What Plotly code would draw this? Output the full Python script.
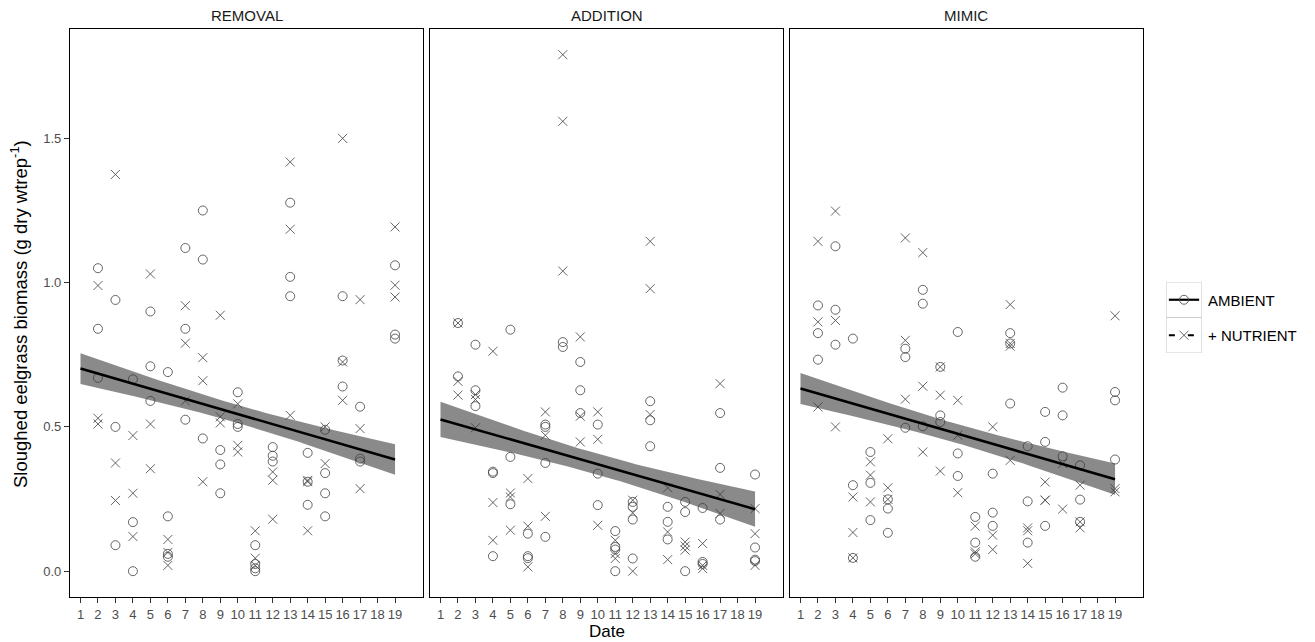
import numpy as np
import plotly.graph_objects as go

# page body has an 8px margin: shift the figure coordinates by it
OFF = 8
W, H = 1315 - OFF, 642 - OFF

PANELS = ["REMOVAL", "ADDITION", "MIMIC"]
DATE_TICKS = list(range(1, 20))
Y_TICKS = [0.0, 0.5, 1.0, 1.5]
Y_TICKTEXT = ["0.0", "0.5", "1.0", "1.5"]
LEGEND_LABELS = ["AMBIENT", "+ NUTRIENT"]

# ---------------- REMOVAL ----------------
removal_amb_date = [2, 2, 2, 3, 3, 3, 4, 4, 4, 5, 5, 5, 6, 6, 6, 6, 7, 7, 7, 8, 8, 8, 9, 9, 9,
                    10, 10, 10, 11, 11, 11, 11, 12, 12, 12, 13, 13, 13, 14, 14, 14, 15, 15, 15, 15,
                    16, 16, 16, 17, 17, 17, 19, 19, 19]
removal_amb_val = [1.05, 0.84, 0.67, 0.94, 0.50, 0.09, 0.665, 0.17, 0.00, 0.90, 0.71, 0.59,
                   0.69, 0.19, 0.06, 0.05, 1.12, 0.84, 0.525, 1.25, 1.08, 0.46, 0.42, 0.37, 0.27,
                   0.62, 0.51, 0.50, 0.09, 0.025, 0.01, 0.0, 0.43, 0.40, 0.38, 1.277, 1.02, 0.953,
                   0.41, 0.31, 0.23, 0.49, 0.34, 0.27, 0.19, 0.953, 0.73, 0.64, 0.57, 0.39, 0.38,
                   1.06, 0.82, 0.806]
removal_nut_date = [2, 2, 2, 3, 3, 3, 4, 4, 4, 5, 5, 5, 6, 6, 6, 7, 7, 7, 8, 8, 8, 9, 9, 9,
                    10, 10, 10, 11, 11, 11, 12, 12, 12, 13, 13, 13, 14, 14, 14, 15, 15,
                    16, 16, 16, 17, 17, 17, 19, 19, 19]
removal_nut_val = [0.99, 0.53, 0.51, 1.375, 0.375, 0.245, 0.47, 0.27, 0.12, 1.03, 0.51, 0.355,
                   0.11, 0.065, 0.02, 0.92, 0.79, 0.59, 0.74, 0.66, 0.31, 0.887, 0.535, 0.514,
                   0.58, 0.436, 0.413, 0.14, 0.045, 0.02, 0.344, 0.315, 0.18, 1.418, 1.185, 0.54,
                   0.315, 0.31, 0.14, 0.50, 0.373, 1.50, 0.725, 0.592, 0.941, 0.494, 0.286,
                   1.193, 0.991, 0.95]

# ---------------- ADDITION ----------------
addition_amb_date = [2, 2, 3, 3, 3, 4, 4, 4, 5, 5, 5, 6, 6, 6, 7, 7, 7, 7, 8, 8, 9, 9, 9,
                     10, 10, 10, 11, 11, 11, 11, 12, 12, 12, 12, 13, 13, 13, 14, 14, 14,
                     15, 15, 15, 16, 16, 16, 17, 17, 17, 19, 19, 19, 19]
addition_amb_val = [0.86, 0.675, 0.785, 0.627, 0.572, 0.345, 0.34, 0.052, 0.837, 0.396, 0.232,
                    0.13, 0.052, 0.045, 0.508, 0.50, 0.375, 0.119, 0.794, 0.777, 0.725, 0.627, 0.548,
                    0.508, 0.338, 0.229, 0.139, 0.084, 0.075, 0.0, 0.24, 0.223, 0.179, 0.044,
                    0.589, 0.523, 0.433, 0.223, 0.171, 0.11, 0.24, 0.205, 0.0, 0.219, 0.032, 0.025,
                    0.548, 0.358, 0.179, 0.335, 0.082, 0.04, 0.035]
addition_nut_date = [2, 2, 2, 3, 3, 3, 4, 4, 4, 5, 5, 5, 6, 6, 6, 7, 7, 7, 8, 8, 8, 9, 9, 9,
                     10, 10, 10, 11, 11, 11, 12, 12, 12, 13, 13, 13, 14, 14, 14, 15, 15, 15,
                     16, 16, 16, 17, 17, 17, 19, 19, 19]
addition_nut_val = [0.86, 0.658, 0.61, 0.612, 0.595, 0.497, 0.762, 0.238, 0.107, 0.271, 0.257, 0.142,
                    0.321, 0.156, 0.015, 0.552, 0.471, 0.19, 1.79, 1.559, 1.04, 0.812, 0.537, 0.448,
                    0.552, 0.457, 0.159, 0.107, 0.061, 0.044, 0.246, 0.202, 0.0, 1.143, 0.979, 0.543,
                    0.289, 0.136, 0.04, 0.101, 0.087, 0.073, 0.096, 0.02, 0.009, 0.65, 0.266, 0.2,
                    0.217, 0.13, 0.02]

# ---------------- MIMIC ----------------
mimic_amb_date = [2, 2, 2, 3, 3, 3, 4, 4, 4, 5, 5, 5, 6, 6, 6, 7, 7, 7, 8, 8, 8, 9, 9, 9,
                  10, 10, 10, 11, 11, 11, 12, 12, 12, 13, 13, 13, 14, 14, 14, 15, 15, 15,
                  16, 16, 16, 17, 17, 17, 19, 19, 19]
mimic_amb_val = [0.921, 0.825, 0.733, 1.126, 0.906, 0.785, 0.806, 0.298, 0.046, 0.413, 0.306, 0.177,
                 0.249, 0.217, 0.133, 0.771, 0.742, 0.497, 0.975, 0.927, 0.502, 0.708, 0.54, 0.517,
                 0.829, 0.408, 0.33, 0.188, 0.099, 0.05, 0.338, 0.203, 0.157, 0.825, 0.789, 0.581,
                 0.433, 0.242, 0.099, 0.552, 0.448, 0.157, 0.636, 0.54, 0.398, 0.367, 0.248, 0.171,
                 0.621, 0.592, 0.387]
mimic_nut_date = [2, 2, 2, 3, 3, 3, 4, 4, 4, 5, 5, 5, 6, 6, 6, 7, 7, 7, 8, 8, 8, 9, 9, 9,
                  10, 10, 10, 11, 11, 11, 12, 12, 12, 13, 13, 13, 13, 14, 14, 14, 15, 15, 15,
                  16, 16, 17, 17, 17, 19, 19, 19]
mimic_nut_val = [1.143, 0.864, 0.569, 1.248, 0.869, 0.50, 0.257, 0.134, 0.046, 0.379, 0.333, 0.24,
                 0.459, 0.289, 0.249, 1.155, 0.80, 0.596, 1.104, 0.641, 0.413, 0.708, 0.61, 0.347,
                 0.592, 0.471, 0.272, 0.156, 0.067, 0.06, 0.50, 0.125, 0.075, 0.924, 0.789, 0.78, 0.384,
                 0.15, 0.14, 0.027, 0.309, 0.246, 0.246, 0.373, 0.215, 0.298, 0.171, 0.15,
                 0.885, 0.286, 0.275]

# fitted trend: value at date 1 and date 19,
# and 95% CI half-width at the centre (date 10) and at the ends
fit_start = [0.702, 0.526, 0.633]
fit_end = [0.387, 0.215, 0.319]
ci_half_mid = [0.031, 0.036, 0.033]
ci_half_end = [0.053, 0.061, 0.054]

panel_data = [
    (removal_amb_date, removal_amb_val, removal_nut_date, removal_nut_val),
    (addition_amb_date, addition_amb_val, addition_nut_date, addition_nut_val),
    (mimic_amb_date, mimic_amb_val, mimic_nut_date, mimic_nut_val),
]

# ---------------- layout geometry (screen pixels) ----------------
panel_px = [(70, 423), (430, 783), (790, 1143)]
top_px, bot_px = 29, 597


def fx(p):
    return (p - OFF) / W


def fy(p):
    return 1 - (p - OFF) / H


ydom = [fy(bot_px), fy(top_px)]

PT_COLOR = "rgba(75,75,75,0.85)"
FONT = "Liberation Sans, Arial, sans-serif"

fig = go.Figure()

for i, (ad, av, nd, nv) in enumerate(panel_data):
    xa = "x" if i == 0 else f"x{i+1}"
    ya = "y" if i == 0 else f"y{i+1}"
    fig.add_trace(go.Scatter(x=ad, y=av, mode="markers", xaxis=xa, yaxis=ya, showlegend=False,
                             marker=dict(symbol="circle-open", size=9, color=PT_COLOR,
                                         line=dict(width=1, color=PT_COLOR))))
    fig.add_trace(go.Scatter(x=nd, y=nv, mode="markers", xaxis=xa, yaxis=ya, showlegend=False,
                             marker=dict(symbol="x-thin-open", size=9, color=PT_COLOR,
                                         line=dict(width=1, color=PT_COLOR))))
    xs = np.linspace(1, 19, 80)
    fit = fit_start[i] + (fit_end[i] - fit_start[i]) * (xs - 1) / 18
    hm, he = ci_half_mid[i], ci_half_end[i]
    half = np.sqrt(hm ** 2 + (he ** 2 - hm ** 2) * ((xs - 10) / 9) ** 2)
    up, lo = fit + half, fit - half
    fig.add_trace(go.Scatter(x=np.concatenate([xs, xs[::-1]]), y=np.concatenate([up, lo[::-1]]),
                             fill="toself", fillcolor="rgba(60,60,60,0.6)", line=dict(width=0),
                             mode="lines", xaxis=xa, yaxis=ya, showlegend=False, hoverinfo="skip"))
    fig.add_trace(go.Scatter(x=xs, y=fit, mode="lines", line=dict(color="black", width=2.6),
                             xaxis=xa, yaxis=ya, showlegend=False))

axis_common = dict(showgrid=False, zeroline=False, showline=True, linecolor="black", linewidth=1.3,
                   mirror=True, ticks="outside", ticklen=5, tickcolor="#333333", tickwidth=1,
                   tickfont=dict(family=FONT, size=13, color="#4d4d4d"))

layout = dict(width=W, height=H, autosize=False, margin=dict(l=0, r=0, t=0, b=0, pad=0),
              paper_bgcolor="white", plot_bgcolor="white", showlegend=False,
              font=dict(family=FONT))

for i, (l, r) in enumerate(panel_px):
    suf = "" if i == 0 else str(i + 1)
    layout[f"xaxis{suf}"] = dict(axis_common, domain=[fx(l), fx(r)], range=[0.4, 20.6],
                                 tickmode="array", tickvals=DATE_TICKS,
                                 ticktext=[str(t) for t in DATE_TICKS],
                                 anchor=f"y{suf}")
    yax = dict(axis_common, domain=ydom, range=[-0.0895, 1.879], anchor=f"x{suf}",
               tickmode="array", tickvals=Y_TICKS, ticktext=Y_TICKTEXT)
    if i > 0:
        yax.update(showticklabels=False, ticks="")
    layout[f"yaxis{suf}"] = yax

# legend key axis (manual legend)
lx0, lx1, ly0, ly1 = 1166, 1202, 282, 353
layout["xaxis4"] = dict(domain=[fx(lx0), fx(lx1)], range=[0, 1], visible=False, anchor="y4")
layout["yaxis4"] = dict(domain=[fy(ly1), fy(ly0)], range=[0, 2], visible=False, anchor="x4")

fig.update_layout(**layout)

shapes = [
    dict(type="rect", xref="x4", yref="y4", x0=0, x1=1, y0=1, y1=2,
         line=dict(color="#cfcfcf", width=1.2), fillcolor="white", layer="below"),
    dict(type="rect", xref="x4", yref="y4", x0=0, x1=1, y0=0, y1=1,
         line=dict(color="#cfcfcf", width=1.2), fillcolor="white", layer="below"),
]
fig.update_layout(shapes=shapes)

fig.add_trace(go.Scatter(x=[0.08, 0.92], y=[1.5, 1.5], mode="lines", line=dict(color="black", width=2.2),
                         xaxis="x4", yaxis="y4", showlegend=False, hoverinfo="skip"))
fig.add_trace(go.Scatter(x=[0.08, 0.92], y=[0.5, 0.5], mode="lines",
                         line=dict(color="black", width=2.2, dash="6px,13px"),
                         xaxis="x4", yaxis="y4", showlegend=False, hoverinfo="skip"))
fig.add_trace(go.Scatter(x=[0.5], y=[1.5], mode="markers", xaxis="x4", yaxis="y4", showlegend=False,
                         marker=dict(symbol="circle-open", size=9, color=PT_COLOR,
                                     line=dict(width=1, color=PT_COLOR))))
fig.add_trace(go.Scatter(x=[0.5], y=[0.5], mode="markers", xaxis="x4", yaxis="y4", showlegend=False,
                         marker=dict(symbol="x-thin-open", size=9, color=PT_COLOR,
                                     line=dict(width=1, color=PT_COLOR))))

annotations = []
for i, (l, r) in enumerate(panel_px):
    annotations.append(dict(text=PANELS[i], x=fx((l + r) / 2), y=fy(15), xref="paper", yref="paper",
                            showarrow=False, xanchor="center", yanchor="middle",
                            font=dict(family=FONT, size=15, color="#1a1a1a")))
annotations.append(dict(text="Date", x=fx((430 + 783) / 2), y=fy(631), xref="paper", yref="paper",
                        showarrow=False, xanchor="center", yanchor="middle",
                        font=dict(family=FONT, size=17, color="black")))
annotations.append(dict(text="Sloughed eelgrass biomass (g dry wtrep<sup>-1</sup>)", x=fx(19),
                        y=fy(314), xref="paper", yref="paper", textangle=-90,
                        showarrow=False, xanchor="center", yanchor="middle",
                        font=dict(family=FONT, size=18.5, color="black")))
annotations.append(dict(text=LEGEND_LABELS[0], x=fx(1206), y=fy(300), xref="paper", yref="paper",
                        showarrow=False, xanchor="left", yanchor="middle",
                        font=dict(family=FONT, size=15, color="black")))
annotations.append(dict(text=LEGEND_LABELS[1], x=fx(1206), y=fy(335), xref="paper", yref="paper",
                        showarrow=False, xanchor="left", yanchor="middle",
                        font=dict(family=FONT, size=15, color="black")))
fig.update_layout(annotations=annotations)

fig.write_html("out.html")
